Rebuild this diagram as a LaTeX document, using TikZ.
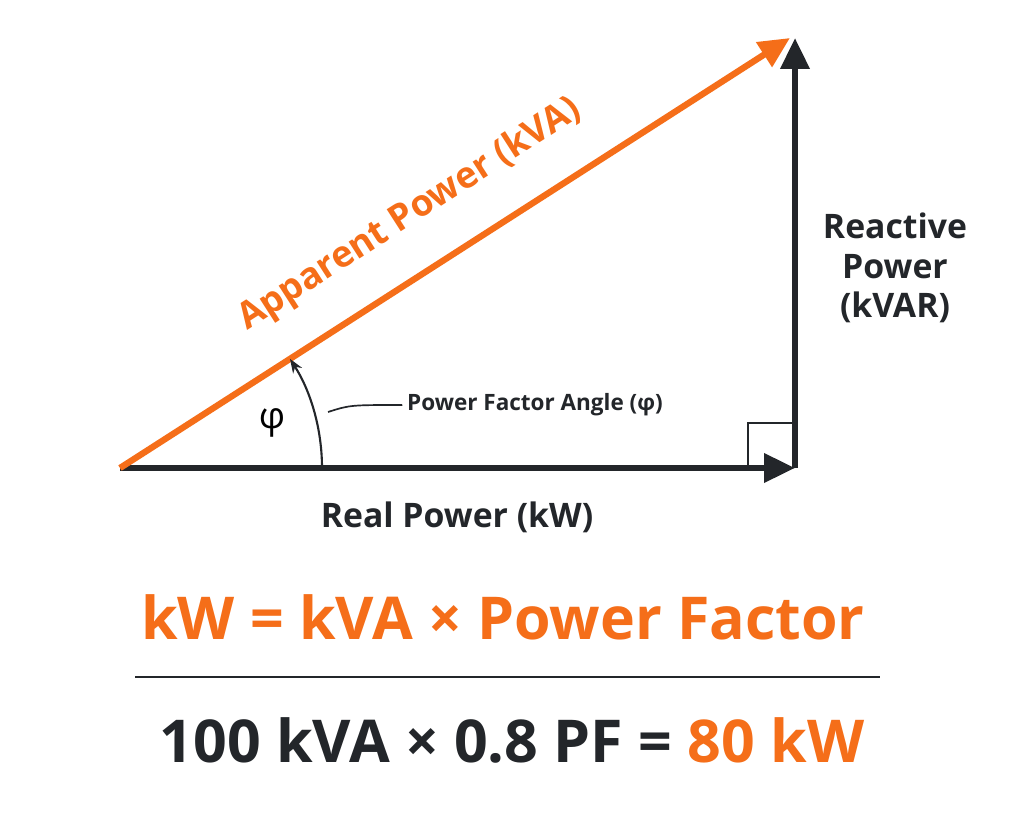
\documentclass[tikz,border=0pt]{standalone}
\usepackage{fontspec}
\setmainfont{Open Sans}
\usetikzlibrary{arrows.meta}
\definecolor{porange}{RGB}{245,110,25}
\definecolor{pdark}{RGB}{35,38,42}
\tikzset{
vec/.style={line width=4.5pt,-{Triangle[length=22pt,width=20pt]}},
lbl/.style={font=\bfseries\fontsize{24}{28}\selectfont,text=pdark,align=center},
big/.style={font=\bfseries\fontsize{42}{47}\selectfont}
}
\begin{document}
\begin{tikzpicture}[x=0.025cm,y=-0.025cm]
\useasboundingbox[fill=white] (0,0) rectangle (1024,819);

\coordinate (O) at (120,468);
\coordinate (X) at (795,468);
\coordinate (T) at (795,38);

\draw[pdark,line width=1.2pt] (748,468) |- (795,423);
\draw[vec,pdark] (O) -- (X);
\draw[vec,pdark] (X) -- (T);
\draw[vec,porange] (O) -- (790,38);

% angle
\draw[pdark,line width=1.5pt,-{Stealth[length=10pt]}] (322,468) arc[start angle=0,end angle=-32.7,radius=202];
\node (phi) at (272,423) {\fontsize{26}{30}\selectfont φ};
\node[font=\fontsize{16}{20}\selectfont\bfseries,text=pdark] (pfa) at (535,405) {Power Factor Angle (φ)};
\draw[pdark,line width=1.2pt] (pfa.west) .. controls (350,405) .. (328,412);

\node[lbl,text=porange,rotate=32.7,font=\bfseries\fontsize{26}{30}\selectfont] (app) at (410,215) {Apparent Power (kVA)};
\node[lbl] (rea) at (895,268) {Reactive\\Power\\(kVAR)};
\node[lbl] (real) at (457,517) {Real Power (kW)};

\node[big,text=porange] (f1) at (503,617) {kW = kVA × Power Factor};
\draw[pdark,line width=1.2pt] (135,677) -- (880,677);
\node[big,text=pdark] (f2) at (512,740) {100 kVA × 0.8 PF = \textcolor{porange}{80 kW}};
\end{tikzpicture}
\end{document}
